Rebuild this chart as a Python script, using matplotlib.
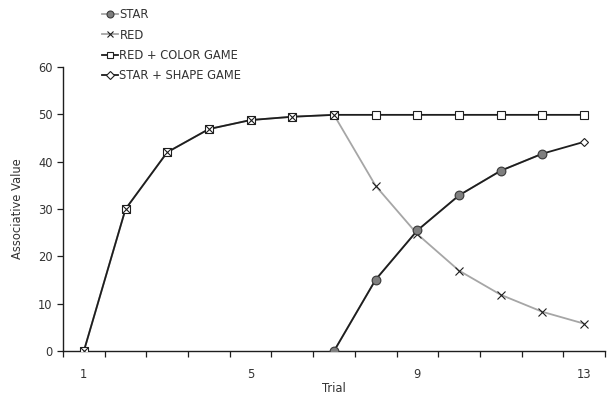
import matplotlib
matplotlib.use("Agg")
import matplotlib.pyplot as plt
from matplotlib.lines import Line2D
import numpy as np

# data
trials = np.arange(1, 14)
red_color_game = [0, 30, 42, 46.9, 48.8, 49.5, 49.9, 49.9, 49.9, 49.9, 49.9, 49.9, 49.9]
red = [0, 30, 42, 46.9, 48.8, 49.5, 49.9, 34.9, 24.7, 17.0, 11.9, 8.3, 5.8]
star_trials = np.arange(7, 13)
star = [0, 15.1, 25.5, 32.9, 38.1, 41.7]
star_shape_trials = np.arange(7, 14)
star_shape_game = [0, 15.1, 25.5, 32.9, 38.1, 41.7, 44.2]
xtick_labels = [1, 5, 9, 13]

plt.rcParams['font.family'] = 'DejaVu Sans'
fs = 8.3
txt = '#333333'
fig = plt.figure(figsize=(6.08, 3.99), dpi=100)
ax = fig.add_axes([0.1036, 0.12, 0.8914, 0.712])

dark = "#1e1e1e"
gray = "#a6a6a6"

# gray lines underneath, black lines over them, markers on top
ax.plot(trials, red, '-', color=gray, lw=1.3, zorder=2)
ax.plot(star_trials, star, '-', color=gray, lw=1.3, zorder=2)
ax.plot(trials, red_color_game, '-', color=dark, lw=1.3, zorder=3)
ax.plot(star_shape_trials, star_shape_game, '-', color=dark, lw=1.3, zorder=3)

ax.plot(trials, red_color_game, 'none', marker='s', ms=6,
        mfc='white', mec=dark, mew=0.8, zorder=4)
ax.plot(trials, red, 'none', marker='x', ms=6, mec=dark, mew=0.8, zorder=5)
ax.plot(star_shape_trials, star_shape_game, 'none', marker='D', ms=4.5,
        mfc='white', mec=dark, mew=0.8, zorder=4)
ax.plot(star_trials, star, 'none', marker='o', ms=6.3,
        mfc='#7f7f7f', mec='#3a3a3a', mew=0.8, zorder=5)

ax.set_xlim(0.5, 13.5)
ax.set_ylim(0, 60)
ax.set_yticks(np.arange(0, 61, 10))
ax.set_xticks(xtick_labels)
ax.set_xticklabels([str(v) for v in xtick_labels])
ax.set_xticks(np.arange(0.5, 14, 1), minor=True)
ax.tick_params(axis='x', which='major', length=0, pad=12, labelsize=fs, colors=txt)
ax.tick_params(axis='x', which='minor', length=4, width=0.9, color=dark)
ax.tick_params(axis='y', length=4, width=0.9, color=dark, labelsize=fs, labelcolor=txt)
for s in ['top', 'right']:
    ax.spines[s].set_visible(False)
for s in ['left', 'bottom']:
    ax.spines[s].set_color(dark)
    ax.spines[s].set_linewidth(1.0)

ax.set_xlabel("Trial", fontsize=fs, color=txt, labelpad=1)
ax.set_ylabel("Associative Value", fontsize=fs, color=txt, labelpad=10)

handles = [
    Line2D([], [], color=gray, lw=1.3, marker='o', ms=5, mfc='#7f7f7f', mec='#3a3a3a', mew=0.8),
    Line2D([], [], color=gray, lw=1.3, marker='x', ms=5, mec=dark, mew=0.8),
    Line2D([], [], color=dark, lw=1.3, marker='s', ms=5, mfc='white', mec=dark, mew=0.8),
    Line2D([], [], color=dark, lw=1.3, marker='D', ms=3.8, mfc='white', mec=dark, mew=0.8),
]
labels = ["STAR", "RED", "RED + COLOR GAME", "STAR + SHAPE GAME"]
ax.legend(handles, labels, loc='upper left',
          bbox_to_anchor=(0.151, 1.005), bbox_transform=fig.transFigure,
          frameon=False, fontsize=fs, handlelength=1.4, handletextpad=0.1,
          labelspacing=0.62, labelcolor=txt)

fig.savefig("out.png", dpi=100)
